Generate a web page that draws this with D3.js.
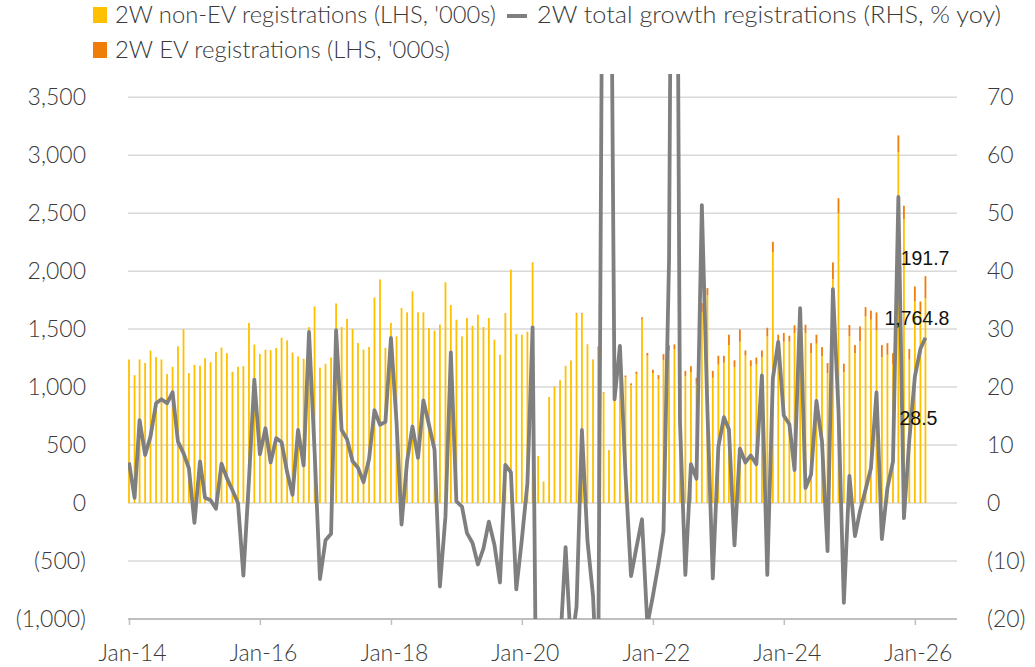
<!DOCTYPE html>
<html>
<head>
<meta charset="utf-8">
<script src="https://cdn.jsdelivr.net/npm/d3@7"></script>
<style>
  body { margin: 0; background: #fff; }
  .light { font-family: Lato, "Open Sans", sans-serif; font-weight: 300; fill: #3a3a3a; }
</style>
</head>
<body>
<svg width="1035" height="667"></svg>
<script>
// monthly series, first month Jan-14
var firstMonth = new Date(2014, 0, 1);

// 2W non-EV registrations ('000s)
var nonEV = [
  1238, 1103, 1238, 1209, 1315, 1258, 1238, 1112, 1175, 1352, 1498, 1120,
  1192, 1183, 1249, 1215, 1304, 1341, 1292, 1132, 1175, 1180, 1553, 1367,
  1285, 1323, 1318, 1338, 1426, 1403, 1298, 1264, 1244, 1517, 1695, 1167,
  1201, 1255, 1721, 1517, 1588, 1502, 1380, 1323, 1346, 1772, 1928, 1338,
  1553, 1437, 1681, 1644, 1825, 1644, 1644, 1509, 1486, 1538, 1903, 1707,
  1580, 1436, 1594, 1528, 1623, 1517, 1594, 1407, 1278, 1636, 2010, 1456,
  1449, 1475, 2073, 405, 185, 913, 1002, 1057, 1180, 1225, 1634, 1635,
  1362, 1231, 1340, 950, 455, 883, 1279, 1085, 1016, 1112, 1582, 1270,
  1121, 1067, 1234, 1313, 1328, 1186, 1096, 1130, 1029, 1648, 1794, 1080,
  1194, 1210, 1362, 1171, 1391, 1271, 1181, 1195, 1256, 1436, 2163, 1392,
  1391, 1393, 1467, 1589, 1466, 1293, 1374, 1265, 1121, 1931, 2500, 1130,
  1437, 1293, 1394, 1609, 1581, 1489, 1259, 1279, 1193, 3026, 2449, 1236,
  1739, 1638, 1764.8
];

// 2W EV registrations ('000s)
var ev = [
  0.1, 0.1, 0.1, 0.1, 0.1, 0.1, 0.1, 0.1, 0.1, 0.1, 0.1, 0.1,
  0.1, 0.1, 0.1, 0.1, 0.1, 0.1, 0.1, 0.1, 0.1, 0.1, 0.1, 0.1,
  0.2, 0.2, 0.2, 0.2, 0.2, 0.2, 0.2, 0.2, 0.2, 0.2, 0.2, 0.2,
  0.3, 0.3, 0.3, 0.3, 0.3, 0.3, 0.3, 0.3, 0.3, 0.4, 0.4, 0.4,
  0.5, 0.5, 0.5, 0.5, 0.6, 0.6, 0.6, 0.6, 0.7, 0.7, 0.8, 0.8,
  1.0, 1.1, 1.2, 1.0, 1.1, 1.2, 1.3, 1.4, 1.5, 1.8, 2.0, 1.5,
  1.6, 1.8, 2.5, 0.3, 0.2, 1.5, 2.0, 2.5, 3.0, 3.5, 6.0, 5.0,
  5, 6, 9, 6, 2.5, 4, 11, 15, 16, 21, 20, 24,
  28, 36, 50, 48, 40, 44, 44, 50, 51, 76, 60, 60,
  76, 60, 90, 60, 106, 45, 50, 60, 60, 76, 90, 60,
  76, 50, 66, 90, 72, 86, 78, 80, 86, 144, 129, 72,
  98, 69, 129, 80, 78, 155, 103, 100, 100, 144, 115, 92,
  129, 100, 191.7
];

// 2W total registrations growth (% yoy)
var growth = [
  7.0, 0.9, 14.3, 8.3, 11.5, 17.2, 17.9, 17.2, 19.1, 10.6, 8.6, 6.0,
  -3.4, 7.2, 0.9, 0.5, -1.0, 6.8, 4.3, 2.2, 0.0, -12.5, 4.0, 21.3,
  8.4, 12.9, 7.0, 11.2, 10.5, 5.3, 1.4, 12.6, 6.5, 29.5, 9.0, -13.1,
  -6.4, -5.3, 29.8, 12.6, 11.0, 7.2, 6.1, 3.6, 7.6, 16.0, 13.5, 14.0,
  28.5, 14.0, -3.7, 7.2, 13.2, 7.8, 17.7, 13.5, 9.2, -14.4, -2.3, 26.0,
  0.3, -0.6, -5.2, -6.9, -10.6, -7.8, -3.2, -7.2, -13.7, 6.6, 5.3, -14.9,
  -6.3, 3.4, 30.3, -72, -89, -40, -37, -25, -7.6, -25, -17.9, 12.6,
  -6.5, -16.0, -35, 136, 147, 17.9, 27.1, 5.0, -12.6, -7.7, -2.8, -21,
  -16, -10.5, -4.9, 42, 199, 14, -12.4, 6.7, 4.2, 51.4, 16, -13,
  9.7, 14.8, 12.7, -7.3, 9.4, 7.0, 8.2, 6.7, 22.0, -12.4, 21.5, 27.8,
  15.1, 13.6, 5.7, 33.6, 2.6, 4.9, 17.6, 10.6, -8.3, 36.9, 16, -17.2,
  4.7, -5.7, -1.4, 2.3, 6.0, 19.1, -6.2, 2.6, 7.2, 52.8, -2.6, 10.9,
  21.8, 26.6, 28.5
];

var leftTicks = [-1000, -500, 0, 500, 1000, 1500, 2000, 2500, 3000, 3500];
var rightTicks = [-20, -10, 0, 10, 20, 30, 40, 50, 60, 70];
var xTickYears = [2014, 2016, 2018, 2020, 2022, 2024, 2026];

var svg = d3.select("svg"),
    plotL = 128, plotR = 957, plotT = 74, plotB = 619;

var months = nonEV.map(function(d, i) { return d3.timeMonth.offset(firstMonth, i); });
var rows = months.map(function(m, i) { return {month: m, nonEV: nonEV[i], ev: ev[i], growth: growth[i]}; });

var x = d3.scaleTime()
    .domain([new Date(2014, 0, 1), new Date(2026, 7, 24)])
    .range([129, plotR]);
var yL = d3.scaleLinear().domain([-1000, 3700]).range([plotB, plotT]);
var yR = d3.scaleLinear().domain([-20, 74]).range([plotB, plotT]);

var paren = function(v) {
  return v < 0 ? "(" + d3.format(",")(-v) + ")" : d3.format(",")(v);
};

// gridlines
svg.append("g").selectAll("line")
  .data(leftTicks.filter(function(d) { return d > -1000; }))
  .enter().append("line")
    .attr("x1", plotL).attr("x2", plotR)
    .attr("y1", function(d) { return yL(d); })
    .attr("y2", function(d) { return yL(d); })
    .attr("stroke", "#d9d9d9")
    .attr("stroke-width", 1.5);

// bars
var stack = d3.stack().keys(["nonEV", "ev"]);
var colors = {nonEV: "#FFC000", ev: "#F07C0A"};
var barW = 1.8;

svg.append("g").selectAll("g")
  .data(stack(rows))
  .enter().append("g")
    .attr("fill", function(s) { return colors[s.key]; })
  .selectAll("rect")
  .data(function(s) { return s; })
  .enter().append("rect")
    .attr("x", function(d) { return x(d.data.month) - barW / 2; })
    .attr("width", barW)
    .attr("y", function(d) { return yL(d[1]); })
    .attr("height", function(d) { return Math.max(0, yL(d[0]) - yL(d[1])); });

// bottom axis
var xAxis = d3.axisBottom(x)
    .tickValues(xTickYears.map(function(y) { return new Date(y, 0, 1); }))
    .tickFormat(d3.timeFormat("%b-%y"))
    .tickSize(6)
    .tickPadding(20);

var gx = svg.append("g")
    .attr("transform", "translate(0," + plotB + ")")
    .call(xAxis);
gx.select(".domain").remove();
gx.append("line").attr("x1", plotL).attr("x2", plotR)
    .attr("stroke", "#bfbfbf").attr("stroke-width", 2);
gx.selectAll(".tick line").attr("stroke", "#bfbfbf").attr("stroke-width", 1.5);
gx.selectAll(".tick text").attr("class", "light").attr("dx", 3).style("font-size", "23px");

// left axis
var gl = svg.append("g")
    .attr("transform", "translate(86,0)")
    .call(d3.axisLeft(yL).tickValues(leftTicks).tickFormat(paren).tickSize(0).tickPadding(0));
gl.select(".domain").remove();
gl.selectAll("text").attr("class", "light").style("font-size", "23px");

// right axis
var gr = svg.append("g")
    .attr("transform", "translate(987,0)")
    .call(d3.axisRight(yR).tickValues(rightTicks).tickFormat(paren).tickSize(0).tickPadding(0));
gr.select(".domain").remove();
gr.selectAll("text").attr("class", "light").style("font-size", "23px");

// growth line, clipped to plot area
svg.append("clipPath").attr("id", "plot")
  .append("rect").attr("x", plotL).attr("y", plotT)
  .attr("width", plotR - plotL).attr("height", plotB - plotT);

var line = d3.line()
    .x(function(d) { return x(d.month); })
    .y(function(d) { return yR(d.growth); });

svg.append("path")
    .datum(rows)
    .attr("clip-path", "url(#plot)")
    .attr("fill", "none")
    .attr("stroke", "#7f7f7f")
    .attr("stroke-width", 3.8)
    .attr("stroke-linejoin", "round")
    .attr("d", line);

// last point labels
var last = rows[rows.length - 1],
    lx = x(last.month);
var labels = [
  {text: d3.format(",.1f")(last.ev), x: lx + 24, y: yL(last.nonEV + last.ev) - 18},
  {text: d3.format(",.1f")(last.nonEV), x: lx + 24, y: yL(last.nonEV) + 20},
  {text: d3.format(",.1f")(last.growth), x: lx + 12, y: yR(last.growth) + 80}
];
svg.append("g").selectAll("text")
  .data(labels)
  .enter().append("text")
    .attr("x", function(d) { return d.x; })
    .attr("y", function(d) { return d.y; })
    .attr("dy", "0.35em")
    .attr("text-anchor", "end")
    .style("font-family", "'Liberation Sans', Arial, sans-serif")
    .style("font-size", "19.5px")
    .style("fill", "#111")
    .text(function(d) { return d.text; });

// legend
var legend = svg.append("g");
legend.append("rect").attr("x", 93).attr("y", 7).attr("width", 14).attr("height", 16).attr("fill", "#FFC000");
legend.append("line").attr("x1", 507).attr("x2", 527).attr("y1", 16).attr("y2", 16)
    .attr("stroke", "#7f7f7f").attr("stroke-width", 4);
legend.append("rect").attr("x", 93).attr("y", 42).attr("width", 14).attr("height", 16).attr("fill", "#F07C0A");

var legendTexts = [
  {text: "2W non-EV registrations (LHS, '000s)", x: 115, y: 15, w: 381},
  {text: "2W total growth registrations (RHS, % yoy)", x: 537, y: 15, w: 464},
  {text: "2W EV registrations (LHS, '000s)", x: 115, y: 50, w: 335}
];
legend.selectAll("text")
  .data(legendTexts)
  .enter().append("text")
    .attr("class", "light")
    .attr("x", function(d) { return d.x; })
    .attr("y", function(d) { return d.y; })
    .attr("dy", "0.35em")
    .attr("textLength", function(d) { return d.w; })
    .attr("lengthAdjust", "spacingAndGlyphs")
    .style("font-size", "23.5px")
    .text(function(d) { return d.text; });
</script>
</body>
</html>
